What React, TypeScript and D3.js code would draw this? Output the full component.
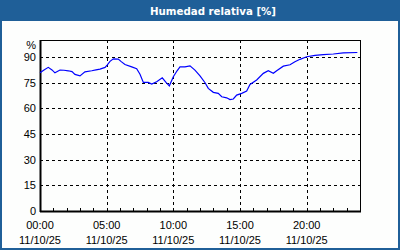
import React from "react";
import * as d3 from "d3";

const title = "Humedad relativa [%]";
const hours = [0, 0.3, 0.62, 0.9, 1.12, 1.5, 1.8, 2.12, 2.4, 2.62, 3.0, 3.37, 3.88, 4.2, 4.5, 4.88, 5.05, 5.25, 5.5, 5.87, 6.07, 6.37, 6.88, 7.25, 7.5, 7.75, 8.12, 8.38, 8.75, 9.17, 9.45, 9.7, 10.0, 10.28, 10.5, 10.87, 11.25, 11.62, 12.0, 12.38, 12.62, 13.0, 13.37, 13.63, 14.0, 14.25, 14.5, 14.75, 15.13, 15.5, 15.75, 16.25, 16.75, 17.12, 17.5, 17.75, 18.25, 18.75, 19.12, 19.5, 20.0, 20.63, 21.25, 22.0, 22.75, 23.8];
const humidity = [80.8, 82.5, 84, 82.5, 80.8, 82.4, 82.3, 82, 81.5, 79.9, 79, 81.4, 82, 82.5, 83, 84, 85.5, 87.5, 89, 88.8, 87.5, 85.7, 84.3, 83.2, 80, 75.2, 75.2, 74.2, 75.6, 77.9, 75.2, 73.2, 78.5, 82, 84.3, 84.3, 84.9, 82.4, 79, 75, 71.7, 69.4, 68.8, 66.8, 66.2, 65.2, 65.5, 67.8, 68.8, 70.1, 74, 76.6, 80.5, 82, 80.5, 82, 84.7, 85.5, 87.3, 88.7, 90.2, 91, 91.5, 91.8, 92.5, 92.7];
const yTicks = [0, 15, 30, 45, 60, 75, 90];
const xTickHours = [0, 5, 10, 15, 20];
const xTickTimes = ["00:00", "05:00", "10:00", "15:00", "20:00"];
const xTickDates = ["11/10/25", "11/10/25", "11/10/25", "11/10/25", "11/10/25"];
const minorHours = d3.range(0, 25);

export default function App() {
  const W = 400, H = 250;
  const left = 40, right = 360, top = 40, bottom = 211;
  const x = d3.scaleLinear().domain([0, 24]).range([left, right]);
  const y = d3.scaleLinear().domain([0, 100]).range([bottom, top]);
  const line = d3.line<number>().x((_, i) => x(hours[i])).y((d) => y(d));
  const blue = "#1f5f98";
  const font = "'Liberation Sans', Arial, sans-serif";
  return (
    <svg width={W} height={H} style={{ position: "absolute", left: 0, top: 0 }}>
      <rect x={0} y={0} width={W} height={H} fill="#fdfefd" />
      <rect x={1} y={1} width={W - 2} height={H - 2} fill="none" stroke={blue} strokeWidth={2} />
      <rect x={0} y={0} width={W} height={21} fill={blue} />
      <text x={213} y={15} textAnchor="middle" fill="#ffffff" fontFamily="'DejaVu Sans', sans-serif" fontWeight="bold" fontSize={11} textLength={126} lengthAdjust="spacingAndGlyphs">{title}</text>
      {yTicks.filter((t) => t > 0).map((t) => (
        <line key={"gy" + t} x1={left} x2={right} y1={Math.round(y(t)) + 0.5} y2={Math.round(y(t)) + 0.5} stroke="#000" strokeDasharray="3,3" />
      ))}
      {xTickHours.filter((h) => h > 0).map((h) => (
        <line key={"gx" + h} x1={Math.round(x(h)) + 0.5} x2={Math.round(x(h)) + 0.5} y1={top} y2={bottom} stroke="#000" strokeDasharray="3,3" />
      ))}
      {minorHours.map((h) => (
        <line key={"mt" + h} x1={Math.round(x(h)) + 0.5} x2={Math.round(x(h)) + 0.5} y1={bottom - 3} y2={bottom} stroke="#000" />
      ))}
      <rect x={left + 0.5} y={top + 0.5} width={right - left} height={bottom - top} fill="none" stroke="#000" strokeWidth={1} />
      <line x1={left} x2={right + 1} y1={bottom + 0.5} y2={bottom + 0.5} stroke="#000" strokeWidth={2} />
      <line x1={left + 0.5} x2={left + 0.5} y1={top} y2={bottom + 1} stroke="#000" strokeWidth={2} />
      <path d={line(humidity) || ""} fill="none" stroke="#0000ff" strokeWidth={1.2} />
      {yTicks.map((t) => (
        <text key={"yl" + t} x={36} y={y(t) + 4} textAnchor="end" fontFamily={font} fontSize={11} fill="#000">{t}</text>
      ))}
      <text x={36} y={49} textAnchor="end" fontFamily={font} fontSize={11} fill="#000">%</text>
      {xTickHours.map((h, i) => (
        <g key={"xl" + h}>
          <text x={x(h)} y={229} textAnchor="middle" fontFamily={font} fontSize={11} fill="#000">{xTickTimes[i]}</text>
          <text x={x(h)} y={244} textAnchor="middle" fontFamily={font} fontSize={11} fill="#000">{xTickDates[i]}</text>
        </g>
      ))}
    </svg>
  );
}
